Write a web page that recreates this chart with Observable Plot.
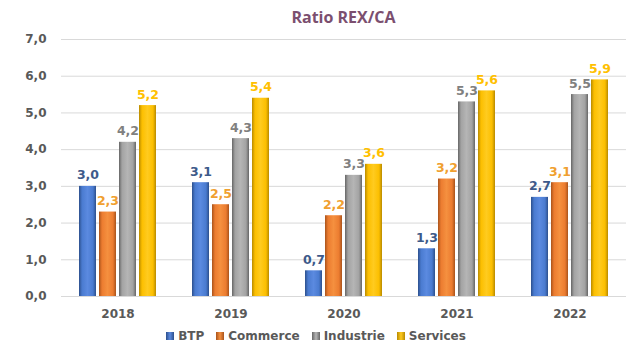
<!DOCTYPE html>
<html>
<head>
<meta charset="utf-8">
<script src="https://cdn.jsdelivr.net/npm/d3@7"></script>
<script src="https://cdn.jsdelivr.net/npm/@observablehq/plot@0.6"></script>
<style>
  body { margin: 0; background: #fff; width: 632px; height: 352px; overflow: hidden; }
  #title { height: 30px; line-height: 34px; padding-left: 60px; padding-right: 5px; text-align: center;
           font-family: "Open Sans", sans-serif; font-weight: bold; font-size: 16px; color: #7b4f6f; }
  #legend { height: 20px; line-height: 20px; text-align: center; font-family: "DejaVu Sans", sans-serif;
            font-weight: bold; font-size: 12px; color: #595959; }
  #legend span.item { margin: 0 6px; }
  #legend span.sw { display: inline-block; width: 8px; height: 8px; margin-right: 4px; vertical-align: 0px; }
</style>
</head>
<body>
<div id="title">Ratio REX/CA</div>
<div id="chart"></div>
<div id="legend"></div>
<script>
const years = ["2018", "2019", "2020", "2021", "2022"];
const series = ["BTP", "Commerce", "Industrie", "Services"];
const btp = [3.0, 3.1, 0.7, 1.3, 2.7];
const commerce = [2.3, 2.5, 2.2, 3.2, 3.1];
const industrie = [4.2, 4.3, 3.3, 5.3, 5.5];
const services = [5.2, 5.4, 3.6, 5.6, 5.9];
const yTicks = [0, 1, 2, 3, 4, 5, 6, 7];

const values = {BTP: btp, Commerce: commerce, Industrie: industrie, Services: services};
const barColors = {
  BTP: ["#2c4f8c", "#4a7bd0", "#5b8ae0", "#2c4f8c"],
  Commerce: ["#a9531b", "#ec7c30", "#f5903f", "#a9531b"],
  Industrie: ["#666666", "#a3a3a3", "#b5b5b5", "#666666"],
  Services: ["#b88a00", "#fcbf00", "#ffcb1f", "#b88a00"]
};
const labelColors = {BTP: "#3d5a8a", Commerce: "#f0a030", Industrie: "#808080", Services: "#ffc000"};
const gid = s => "grad-" + s;

const rows = [];
series.forEach(s => years.forEach((y, i) => rows.push({year: y, series: s, value: values[s][i]})));
const fmt = v => d3.format(".1f")(v).replace(".", ",");

const marks = [Plot.gridY(yTicks, {stroke: "#d9d9d9", strokeOpacity: 1})];
for (const s of series) {
  const data = rows.filter(d => d.series === s);
  marks.push(Plot.barY(data, {fx: "year", x: "series", y: "value", fill: `url(#${gid(s)})`}));
  marks.push(Plot.text(data, {fx: "year", x: "series", y: "value", text: d => fmt(d.value), dy: -11,
    fill: labelColors[s], fontWeight: "bold", fontSize: 12.5, fontFamily: "DejaVu Sans"}));
}
marks.push(Plot.axisY(yTicks, {tickSize: 0, tickPadding: 15, tickFormat: fmt, fontWeight: "bold", label: null,
  fontSize: 12, fill: "#595959", fontFamily: "DejaVu Sans"}));
marks.push(Plot.axisFx({anchor: "bottom", tickSize: 0, tickPadding: 13, label: null, fontWeight: "bold",
  fontSize: 12, fill: "#595959", fontFamily: "DejaVu Sans"}));

const chart = Plot.plot({
  width: 632,
  height: 296,
  marginTop: 9,
  marginBottom: 30,
  marginLeft: 60,
  marginRight: 5,
  style: {fontFamily: "DejaVu Sans", background: "#fff"},
  fx: {domain: years, padding: 0, label: null},
  x: {domain: series, paddingInner: 0.17, paddingOuter: 0.825, axis: null},
  y: {domain: [0, 7], axis: null, label: null},
  marks
});

let defs = "<defs>";
for (const s of series) {
  const c = barColors[s];
  defs += `<linearGradient id="${gid(s)}" x1="0" x2="1" y1="0" y2="0">
    <stop offset="0" stop-color="${c[0]}"/><stop offset="0.18" stop-color="${c[1]}"/>
    <stop offset="0.5" stop-color="${c[2]}"/><stop offset="0.82" stop-color="${c[1]}"/>
    <stop offset="1" stop-color="${c[3]}"/></linearGradient>`;
}
defs += "</defs>";
chart.insertAdjacentHTML("afterbegin", defs);
document.getElementById("chart").appendChild(chart);

const legend = document.getElementById("legend");
legend.innerHTML = series.map(s => {
  const c = barColors[s];
  return `<span class="item"><span class="sw" style="background:linear-gradient(90deg, ${c[0]}, ${c[2]}, ${c[0]})"></span>${s}</span>`;
}).join("");
</script>
</body>
</html>
